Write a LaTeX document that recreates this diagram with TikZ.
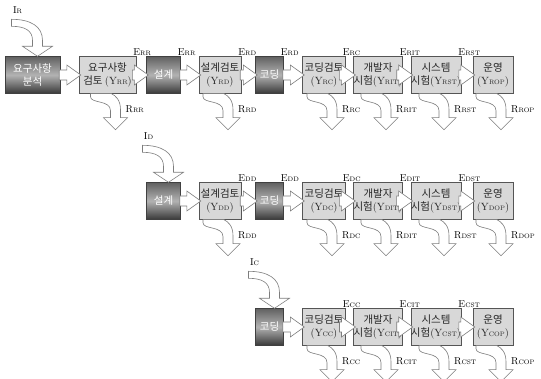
\documentclass[tikz,border=0pt]{standalone}
\usepackage{fontspec}
\newfontfamily\krfont{Noto Sans CJK KR}
\usetikzlibrary{calc}
\definecolor{edgecol}{RGB}{85,85,85}
\definecolor{arrcol}{RGB}{125,125,125}
\definecolor{revcol}{RGB}{216,216,216}
\newcommand{\ssub}[1]{{\fontsize{6.5}{7}\selectfont #1}}
% hollow block arrow from one box into the next
\newcommand{\flowarr}[2]{%
  \draw[blk] let \p1=(#1.east), \p2=(#2.west),
    \n1={\x2+2pt}, \n2={\n1-14}, \n3={min(\x1-1pt,\n2-2)} in
    ({\n3*1pt},{\y1+5pt}) -- ({\n2*1pt},{\y1+5pt}) -- ({\n2*1pt},{\y1+10pt})
    -- ({\n1*1pt},\y1) -- ({\n2*1pt},{\y1-10pt}) -- ({\n2*1pt},{\y1-5pt})
    -- ({\n3*1pt},{\y1-5pt}) -- cycle;}
% curved input arrow onto the top of a box
\newcommand{\inarr}[2]{%
  \draw[blk,shift={(#1.north)}] (-21,-37) .. controls (-2,-37) and (10,-30) .. (10,-16)
    -- (10,-10) -- (20,-10) -- (5,0) -- (-10,-10) -- (0,-10) -- (0,-16)
    .. controls (0,-26) and (-8,-30) .. (-21,-30) -- cycle;
  \node[lbl,shift={(-15,-46)}] (i#1) at (#1.north) {I\ssub{#2}};}
% curved output arrow leaving the bottom of a review box
\newcommand{\outarr}[2]{%
  \draw[blk,shift={(#1.south)}] (-17,0) -- (-17,3) .. controls (-17,10) and (3,6) .. (3,17)
    -- (3,24) -- (-4,24) -- (8,36) -- (20,24) -- (13,24) -- (13,16)
    .. controls (13,6) and (8,2) .. (4,0) -- cycle;
  \node[lbl,anchor=west,shift={(18,15)}] (o#1) at (#1.south) {R\ssub{#2}};}

\begin{document}
\begin{tikzpicture}[x=1pt,y=-1pt,
  dev/.style={draw=black!75,top color=black!62,bottom color=black!78,middle color=black!30,
    text=white,minimum height=37pt,inner sep=0pt,align=center,
    font=\krfont\fontsize{10.5}{13}\selectfont},
  rev/.style={draw=edgecol,fill=revcol,text=black!85,minimum height=37pt,inner sep=0pt,
    align=center,font=\krfont\fontsize{10.5}{13}\selectfont},
  blk/.style={draw=arrcol,fill=white,line width=0.6pt},
  lbl/.style={font=\fontsize{10}{12}\selectfont,inner sep=0pt},
]
\useasboundingbox (0,0) rectangle (541,379);

% --- row 1: requirements ---
\node[dev,minimum width=55pt] (r1a) at (32.5,75) {요구사항\\분석};
\node[rev,minimum width=57pt] (r1b) at (107.5,75) {요구사항\\검토 {\rmfamily(Y\ssub{RR})}};
\node[dev,minimum width=34pt] (r1c) at (163.5,75) {설계};
\node[rev,minimum width=42pt] (r1d) at (220,75) {설계검토\\{\rmfamily(Y\ssub{RD})}};
\node[dev,minimum width=28pt] (r1e) at (269.5,75) {코딩};
\node[rev,minimum width=43pt] (r1f) at (324,75) {코딩검토\\{\rmfamily(Y\ssub{RC})}};
\node[rev,minimum width=48pt] (r1g) at (378,75) {개발자\\시험{\rmfamily(Y\ssub{RIT})}};
\node[rev,minimum width=48pt] (r1h) at (436,75) {시스템\\시험{\rmfamily(Y\ssub{RST})}};
\node[rev,minimum width=40pt] (r1i) at (493,75) {운영\\{\rmfamily(Y\ssub{ROP})}};

% --- row 2: design ---
\node[dev,minimum width=34pt] (r2c) at (163.5,201) {설계};
\node[rev,minimum width=42pt] (r2d) at (220,201) {설계검토\\{\rmfamily(Y\ssub{DD})}};
\node[dev,minimum width=28pt] (r2e) at (269.5,201) {코딩};
\node[rev,minimum width=43pt] (r2f) at (324,201) {코딩검토\\{\rmfamily(Y\ssub{DC})}};
\node[rev,minimum width=48pt] (r2g) at (378,201) {개발자\\시험{\rmfamily(Y\ssub{DIT})}};
\node[rev,minimum width=48pt] (r2h) at (436,201) {시스템\\시험{\rmfamily(Y\ssub{DST})}};
\node[rev,minimum width=40pt] (r2i) at (493,201) {운영\\{\rmfamily(Y\ssub{DOP})}};

% --- row 3: coding ---
\node[dev,minimum width=28pt] (r3e) at (269.5,327) {코딩};
\node[rev,minimum width=43pt] (r3f) at (324,327) {코딩검토\\{\rmfamily(Y\ssub{CC})}};
\node[rev,minimum width=48pt] (r3g) at (378,327) {개발자\\시험{\rmfamily(Y\ssub{CIT})}};
\node[rev,minimum width=48pt] (r3h) at (436,327) {시스템\\시험{\rmfamily(Y\ssub{CST})}};
\node[rev,minimum width=40pt] (r3i) at (493,327) {운영\\{\rmfamily(Y\ssub{COP})}};

% flow between phases
\foreach \a/\b in {r1a/r1b,r1b/r1c,r1c/r1d,r1d/r1e,r1e/r1f,r1f/r1g,r1g/r1h,r1h/r1i,
                   r2c/r2d,r2d/r2e,r2e/r2f,r2f/r2g,r2g/r2h,r2h/r2i,
                   r3e/r3f,r3f/r3g,r3g/r3h,r3h/r3i}
  {\flowarr{\a}{\b}}

% errors passed on
\foreach \src/\sb in {r1b/RR,r1c/RR,r1d/RD,r1e/RD,r1f/RC,r1g/RIT,r1h/RST,
                      r2d/DD,r2e/DD,r2f/DC,r2g/DIT,r2h/DST,
                      r3f/CC,r3g/CIT,r3h/CST}
  {\node[lbl,anchor=base west,shift={(-3,-1)}] (e\src) at (\src.north east) {E\ssub{\sb}};}

% injected and removed errors
\inarr{r1a}{R}
\inarr{r2c}{D}
\inarr{r3e}{C}
\foreach \src/\sb in {r1b/RR,r1d/RD,r1f/RC,r1g/RIT,r1h/RST,r1i/ROP,
                      r2d/DD,r2f/DC,r2g/DIT,r2h/DST,r2i/DOP,
                      r3f/CC,r3g/CIT,r3h/CST,r3i/COP}
  {\outarr{\src}{\sb}}
\end{tikzpicture}
\end{document}
